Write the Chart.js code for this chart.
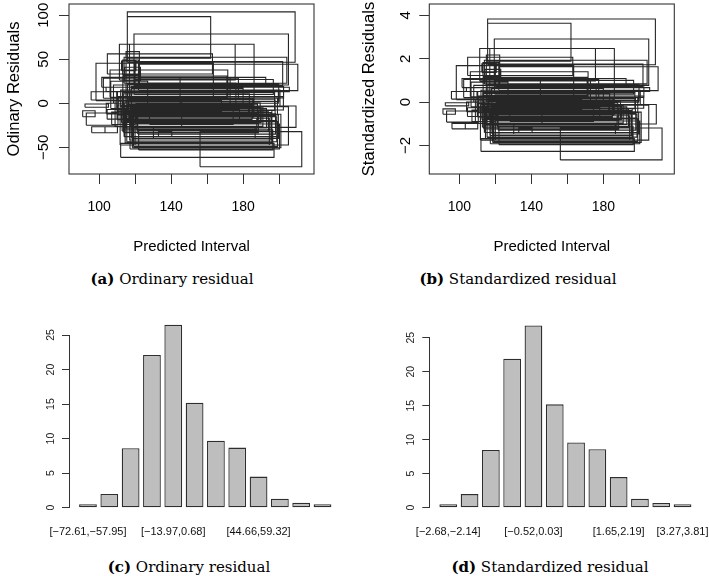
<!DOCTYPE html>
<html><head><meta charset="utf-8">
<script src="https://cdn.jsdelivr.net/npm/chart.js@4.4.1/dist/chart.umd.min.js"></script>
<style>
html,body{margin:0;padding:0;background:#fff}
body{width:709px;height:576px;position:relative;overflow:hidden}
.box{position:absolute}
.cap{position:absolute;font-family:"DejaVu Serif",serif;font-size:15px;color:#000;white-space:nowrap;transform:translate(-50%,-50%)}
.cap b{font-weight:bold}
</style></head><body>
<div class="box" style="left:0;top:0;width:354px;height:256px"><canvas id="cA"></canvas></div>
<div class="box" style="left:360px;top:0;width:349px;height:256px"><canvas id="cB"></canvas></div>
<div class="box" style="left:0;top:300px;width:354px;height:250px"><canvas id="cC"></canvas></div>
<div class="box" style="left:360px;top:300px;width:360px;height:250px"><canvas id="cD"></canvas></div>
<div class="cap" style="left:172px;top:279px"><b>(a)</b> Ordinary residual</div>
<div class="cap" style="left:518px;top:279px"><b>(b)</b> Standardized residual</div>
<div class="cap" style="left:189px;top:567px"><b>(c)</b> Ordinary residual</div>
<div class="cap" style="left:550px;top:567px"><b>(d)</b> Standardized residual</div>
<script>
// Predicted interval (x) for each observation
const predLow = [115.7,115.7,119.4,111.3,116.9,104.6,115.0,98.3,113.9,120.0,
  121.9,106.1,113.1,101.5,102.4,103.9,108.0,109.8,95.6,92.2,
  90.9,92.9,95.9,103.3,109.8,110.7,111.7,119.1,115.4,113.5,
  113.9,118.1,112.0,156.1,117.2,119.1,120.0,115.4,133.0,130.2,
  113.5,121.0,108.9,124.6,145.0,114.5,117.0,112.5,116.0,118.5,
  110.5,106.5,112.5,114.2,122.0,118.5,128.0,104.5,113.0,115.8,
  112.8,117.5,114.0,119.5,116.5,113.5,118.0,115.0,112.0,121.5,
  110.0,114.8,117.8,116.2,113.2,120.5,104.0,107.0];
const predHigh = [208.9,162.0,205.2,175.6,186.1,163.0,122.4,163.5,204.3,202.0,
  210.4,171.5,121.9,192.6,177.4,205.7,172.8,199.6,110.2,105.2,
  97.8,110.5,103.3,110.2,202.4,199.1,205.2,209.4,185.4,188.5,
  198.7,199.6,197.2,212.6,200.2,199.1,194.6,198.7,140.4,186.7,
  187.6,188.5,145.9,185.7,172.8,196.0,195.5,190.0,183.0,178.0,
  168.0,127.0,120.5,123.0,196.5,201.0,174.5,116.5,197.5,199.8,
  194.0,191.0,189.5,196.8,186.0,183.5,180.0,176.0,200.5,198.0,
  185.0,193.0,202.5,197.8,171.0,188.0,118.0,120.0];
// Ordinary residual intervals
const ordResLow = [46.6,51.1,20.8,26.5,4.5,33.3,22.7,3.0,22.7,19.7,
  14.4,6.8,32.2,18.2,5.7,13.3,0,0,3.8,-4.5,
  -15.2,-25.0,-33.4,-33.4,-7.6,-13.3,-47.3,-27.3,-17.0,-33.3,
  -37.9,-39.8,-61.4,-72.0,-51.9,-49.2,-47.3,-43.6,-37.9,-39.8,
  -29.5,-30.3,-26.5,-13.3,-3.8,-45.0,-41.7,-22.0,-12.0,-19.5,
  -9.5,-6.0,37.0,26.0,-53.0,-50.5,-24.0,-18.0,-8.0,2.0,
  -31.5,-26.0,-20.5,10.0,-15.5,-10.5,-5.0,0.5,-3.0,-35.0,
  -18.5,-28.0,6.0,-14.0,8.0,-23.0,-12.0,-24.0];
const ordResHigh = [103.8,98.5,78.8,67.0,67.0,56.1,58.7,45.5,52.3,47.3,
  44.3,37.9,49.2,29.5,28.4,18.2,20.8,13.3,13.2,-0.8,
  -8.4,-11.0,-26.6,-26.6,7.6,5.7,-3.8,-3.0,3.8,-11.4,
  -15.2,-13.3,-45.5,-32.2,-23.5,-20.8,-17.0,-19.7,-32.2,-26.5,
  -17.0,-7.6,3.8,0,29.5,-8.0,-10.5,-5.5,-1.5,-6.5,
  2.5,25.0,48.0,41.0,-30.0,-12.5,-9.0,-7.0,12.0,22.0,
  -9.0,-4.0,0.5,27.0,6.0,10.5,17.0,23.0,15.0,-12.0,
  -2.0,-6.0,19.0,4.0,31.0,-1.0,0.0,-10.0];
// Standardized residual intervals
const stdResLow = [1.72,1.89,0.77,0.98,0.17,1.23,0.84,0.11,0.84,0.73,
  0.53,0.25,1.19,0.67,0.21,0.49,0,0,0.14,-0.17,
  -0.56,-0.92,-1.23,-1.23,-0.28,-0.49,-1.75,-1.01,-0.63,-1.23,
  -1.40,-1.47,-2.27,-2.66,-1.92,-1.82,-1.75,-1.61,-1.40,-1.47,
  -1.09,-1.12,-0.98,-0.49,-0.14,-1.66,-1.54,-0.81,-0.44,-0.72,
  -0.35,-0.22,1.37,0.96,-1.96,-1.86,-0.89,-0.66,-0.30,0.07,
  -1.16,-0.96,-0.76,0.37,-0.57,-0.39,-0.18,0.02,-0.11,-1.29,
  -0.68,-1.03,0.22,-0.52,0.30,-0.85,-0.44,-0.89];
const stdResHigh = [3.83,3.63,2.91,2.47,2.47,2.07,2.17,1.68,1.93,1.75,
  1.63,1.40,1.82,1.09,1.05,0.67,0.77,0.49,0.49,-0.03,
  -0.31,-0.41,-0.98,-0.98,0.28,0.21,-0.14,-0.11,0.14,-0.42,
  -0.56,-0.49,-1.68,-1.19,-0.87,-0.77,-0.63,-0.73,-1.19,-0.98,
  -0.63,-0.28,0.14,0,1.09,-0.30,-0.39,-0.20,-0.06,-0.24,
  0.09,0.92,1.77,1.51,-1.11,-0.46,-0.33,-0.26,0.44,0.81,
  -0.33,-0.15,0.02,1.00,0.22,0.39,0.63,0.85,0.55,-0.44,
  -0.07,-0.22,0.70,0.15,1.14,-0.04,0.00,-0.37];
const predTickLabelsShown = [100,140,180];

// Histograms
const ordBins = ['[\u221272.61,\u221257.95]','[\u221257.95,\u221243.29]','[\u221243.29,\u221228.63]','[\u221228.63,\u221213.97]','[\u221213.97,0.68]','[0.68,15.34]','[15.34,30.00]','[30.00,44.66]','[44.66,59.32]','[59.32,73.98]','[73.98,88.64]','[88.64,103.30]'];
const ordPct = [0.5,2.0,8.6,22.1,26.5,15.2,9.7,8.7,4.5,1.3,0.7,0.5];
const ordBinLabelsShown = [0,4,8];
const stdBins = ['[\u22122.68,\u22122.14]','[\u22122.14,\u22121.60]','[\u22121.60,\u22121.06]','[\u22121.06,\u22120.52]','[\u22120.52,0.03]','[0.03,0.57]','[0.57,1.11]','[1.11,1.65]','[1.65,2.19]','[2.19,2.73]','[2.73,3.27]','[3.27,3.81]'];
const stdPct = [0.5,2.0,8.5,21.9,26.8,15.2,9.6,8.6,4.5,1.3,0.7,0.5];
const stdBinLabelsShown = [0,4,8,11];

const SANS = 'Liberation Sans';
const INK = '#333';
const fmt = v => (v < 0 ? '\u2212' + Math.abs(v) : String(v));

const framePlugin = {
  id: 'frame',
  afterDraw(chart) {
    const {ctx, chartArea: a} = chart;
    ctx.save();
    ctx.strokeStyle = INK; ctx.lineWidth = 1.1;
    ctx.strokeRect(a.left, a.top, a.right - a.left, a.bottom - a.top);
    ctx.restore();
  }
};

// draws the y scale's own tick labels rotated (parallel to the axis), like R's las=0
const rotatedYTicks = {
  id: 'rotatedYTicks',
  afterDraw(chart, args, opts) {
    const s = chart.scales.y;
    const ctx = chart.ctx;
    ctx.save();
    ctx.fillStyle = opts.color;
    ctx.font = opts.size + 'px "' + SANS + '"';
    ctx.textAlign = 'center';
    ctx.textBaseline = 'middle';
    s.ticks.forEach(t => {
      const y = s.getPixelForValue(t.value);
      ctx.save();
      ctx.translate(s.right - opts.offset, y);
      ctx.rotate(-Math.PI / 2);
      ctx.fillText(t.label, 0, 0);
      ctx.restore();
    });
    ctx.restore();
  }
};

function rectChart(id, lo, hi, yMin, yMax, yStep, yTitle, yPad, yTitlePad, yAxisWidth, rightPad) {
  const pts = [];
  for (let i = 0; i < predLow.length; i++) {
    pts.push({x: predLow[i], y: lo[i]}, {x: predHigh[i], y: lo[i]}, {x: predHigh[i], y: hi[i]},
             {x: predLow[i], y: hi[i]}, {x: predLow[i], y: lo[i]}, {x: predLow[i], y: null});
  }
  new Chart(document.getElementById(id), {
    type: 'scatter',
    data: {datasets: [{data: pts, showLine: true, spanGaps: false, borderColor: '#262626',
      borderWidth: 1.1, pointRadius: 0, pointHoverRadius: 0, fill: false, tension: 0}]},
    options: {
      responsive: true, maintainAspectRatio: false, animation: false, events: [],
      layout: {padding: {left: 0, top: 4, right: rightPad, bottom: 0}},
      plugins: {legend: {display: false}, tooltip: {enabled: false}},
      scales: {
        x: {type: 'linear', min: 83.3, max: 219.4,
          afterFit(s) { s.height = 82; s.paddingLeft = 0; s.paddingRight = 0; },
          ticks: {stepSize: 20, includeBounds: false, autoSkip: false, maxRotation: 0, padding: 16, color: '#000',
            font: {family: SANS, size: 14, lineHeight: 1},
            callback: v => predTickLabelsShown.includes(v) ? String(v) : ''},
          grid: {drawOnChartArea: false, drawTicks: true, tickLength: 10, color: INK},
          border: {display: false},
          title: {display: true, text: 'Predicted Interval', color: '#000',
            font: {family: SANS, size: 15, lineHeight: 1}, padding: {top: 0, bottom: 2}}},
        y: {type: 'linear', min: yMin, max: yMax,
          afterFit(s) { s.width = yAxisWidth; s.paddingTop = 0; s.paddingBottom = 0; },
          ticks: {stepSize: yStep, includeBounds: false, minRotation: 90, maxRotation: 90, crossAlign: 'center',
            padding: yPad, color: '#000', font: {family: SANS, size: 15, lineHeight: 1}, callback: v => fmt(v)},
          grid: {drawOnChartArea: false, drawTicks: true, tickLength: 10, color: INK},
          border: {display: false},
          title: {display: true, text: yTitle, color: '#000',
            font: {family: SANS, size: 16.5, lineHeight: 1}, padding: {top: yTitlePad, bottom: 0}}}
      }
    },
    plugins: [framePlugin]
  });
}

function histChart(id, bins, pct, shown, yAxisWidth, rightPad, topPad, labelOffset) {
  const centers = pct.map((_, i) => 0.7 + 1.2 * i);
  new Chart(document.getElementById(id), {
    type: 'bar',
    data: {datasets: [{data: pct.map((v, i) => ({x: centers[i], y: v})),
      backgroundColor: '#bebebe', borderColor: '#2e2e2e', borderWidth: 1.3, borderSkipped: false,
      barPercentage: 1 / 1.2, categoryPercentage: 1, clip: false}]},
    options: {
      responsive: true, maintainAspectRatio: false, animation: false, events: [],
      layout: {padding: {left: 0, top: topPad, right: rightPad, bottom: 0}},
      plugins: {legend: {display: false}, tooltip: {enabled: false},
        rotatedYTicks: {offset: labelOffset, size: 10.5, color: '#222'}},
      scales: {
        x: {type: 'linear', min: -0.368, max: 14.968, offset: false,
          afterBuildTicks(s) { s.ticks = centers.map(c => ({value: c})); },
          afterFit(s) { s.height = 42.3; s.paddingLeft = 0; s.paddingRight = 0; },
          ticks: {autoSkip: false, maxRotation: 0, padding: 11, color: '#111',
            font: {family: SANS, size: 11, lineHeight: 1},
            callback: (v, i) => shown.includes(i) ? bins[i] : ''},
          grid: {display: false, offset: false},
          border: {display: false}},
        y: {type: 'linear', min: 0, max: 25,
          afterFit(s) { s.width = yAxisWidth; s.paddingTop = 0; s.paddingBottom = 0; },
          ticks: {stepSize: 5, display: false},
          grid: {drawOnChartArea: false, drawTicks: true, tickLength: 7, color: INK},
          border: {display: true, color: INK, width: 1}}
      }
    },
    plugins: [rotatedYTicks]
  });
}

rectChart('cA', ordResLow, ordResHigh, -80.3, 112.8, 50, 'Odinary Residuals', 2.8, 6, 69, 40);
rectChart('cB', stdResLow, stdResHigh, -3.31, 4.52, 2, 'Standardized Residuals', 5.3, 1, 69.3, 34.7);
histChart('cC', ordBins, ordPct, ordBinLabelsShown, 69, 12.5, 35, 18);
histChart('cD', stdBins, stdPct, stdBinLabelsShown, 69.3, 18.5, 37.7, 18.3);
</script>
</body></html>
